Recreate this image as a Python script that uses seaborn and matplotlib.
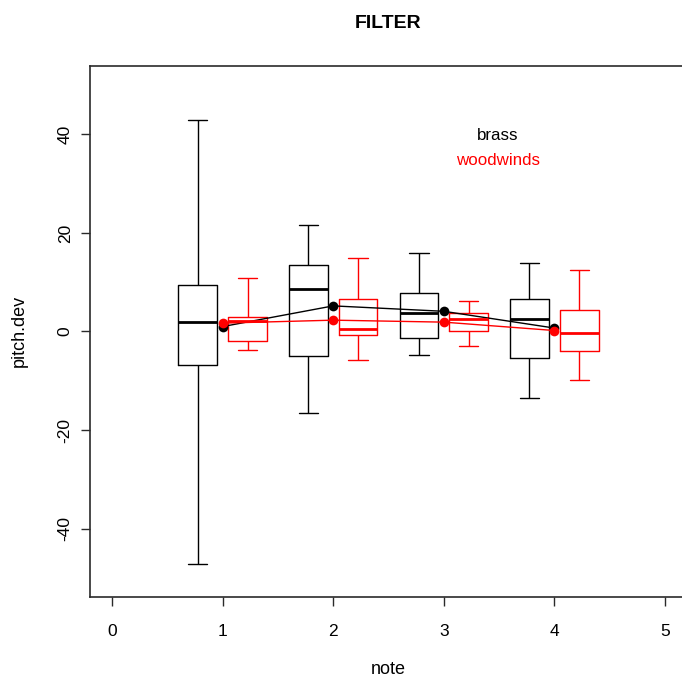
import numpy as np
import pandas as pd
import matplotlib
matplotlib.use("Agg")
import matplotlib.pyplot as plt
import seaborn as sns

# ---- data ----
notes = [1, 2, 3, 4]
groups = ["brass", "woodwinds"]
# five-number summaries: lower whisker, Q1, median, Q3, upper whisker
brass_lo = [-47.3, -16.6, -4.8, -13.5]
brass_q1 = [-6.8, -4.9, -1.3, -5.3]
brass_med = [2.0, 8.7, 3.8, 2.5]
brass_q3 = [9.5, 13.4, 7.8, 6.5]
brass_hi = [42.9, 21.7, 15.9, 13.9]
wood_lo = [-3.8, -5.8, -3.0, -9.8]
wood_q1 = [-2.0, -0.7, 0.2, -4.0]
wood_med = [2.1, 0.6, 2.6, -0.4]
wood_q3 = [2.9, 6.6, 3.7, 4.4]
wood_hi = [10.9, 14.9, 6.2, 12.5]
# group means (points joined by lines)
brass_mean = [1.0, 5.2, 4.1, 0.7]
wood_mean = [1.7, 2.3, 1.9, 0.2]
x_ticks = [0, 1, 2, 3, 4, 5]
y_ticks = [-40, -20, 0, 20, 40]

summaries = {
    "brass": [brass_lo, brass_q1, brass_med, brass_q3, brass_hi],
    "woodwinds": [wood_lo, wood_q1, wood_med, wood_q3, wood_hi],
}
rows = []
for g in groups:
    for i, n in enumerate(notes):
        for arr in summaries[g]:
            rows.append({"note": n, "pitch.dev": arr[i], "group": g})
box_df = pd.DataFrame(rows)

mean_df = pd.DataFrame({
    "note": notes * 2,
    "pitch.dev": brass_mean + wood_mean,
    "group": ["brass"] * len(notes) + ["woodwinds"] * len(notes),
})

# ---- style ----
sns.set_theme(style="ticks")
plt.rcParams["font.family"] = ["Liberation Sans", "DejaVu Sans"]
plt.rcParams["axes.edgecolor"] = "#2a2a2a"
plt.rcParams["axes.linewidth"] = 1.2
plt.rcParams["text.color"] = "black"
plt.rcParams["axes.labelcolor"] = "black"

palette = {"brass": "black", "woodwinds": "red"}

fig = plt.figure(figsize=(6.82, 6.77), dpi=100)
W, H = 682, 677
left, right, top, bottom = 90, 687, 65.5, 597
ax = fig.add_axes([left / W, 1 - bottom / H, (right - left) / W, (bottom - top) / H])
ax.set_facecolor("white")

sns.boxplot(data=box_df, x="note", y="pitch.dev", hue="group", hue_order=groups,
            palette=palette, native_scale=True, orient="x", width=0.9, gap=0.222,
            whis=np.inf, fill=False, linewidth=1.0,
            medianprops={"linewidth": 2.0}, legend=False, ax=ax)

sns.lineplot(data=mean_df, x="note", y="pitch.dev", hue="group", hue_order=groups,
             palette=palette, marker="o", markersize=7, markeredgewidth=0,
             linewidth=1.0, legend=False, ax=ax)

ax.set_xlim(-0.2, 5.2)
ax.set_ylim(-53.9, 54.0)
ax.set_xticks(x_ticks)
ax.set_yticks(y_ticks)
ax.set_xticklabels([str(v) for v in x_ticks], fontsize=12.5)
ax.set_yticklabels([str(v) for v in y_ticks], fontsize=12.5, rotation=90, va="center")
ax.tick_params(axis="both", direction="out", length=6.5, width=1,
               color="#2a2a2a", labelcolor="black")
ax.tick_params(axis="x", pad=13)
ax.tick_params(axis="y", pad=6)
for s in ax.spines.values():
    s.set_visible(True)
    s.set_clip_on(False)

ax.set_xlabel("note", fontsize=13)
ax.set_ylabel("pitch.dev", fontsize=13)
ax.xaxis.set_label_coords(0.5, -0.137)
ax.xaxis.label.set_va("center")
ax.yaxis.set_label_coords(-0.118, 0.5)
ax.yaxis.label.set_va("center")
ax.yaxis.label.set_ha("center")

# legend as plain coloured text
ax.text(3.49, 39.7, "brass", color="black", fontsize=12.2, ha="center", va="center")
ax.text(3.49, 34.8, "woodwinds", color="red", fontsize=12.2, ha="center", va="center")

fig.text(388 / W, 1 - 23 / H, "FILTER", fontsize=14, fontweight="bold",
         ha="center", va="center", color="black")

fig.savefig("out.png", dpi=100, facecolor="white")
